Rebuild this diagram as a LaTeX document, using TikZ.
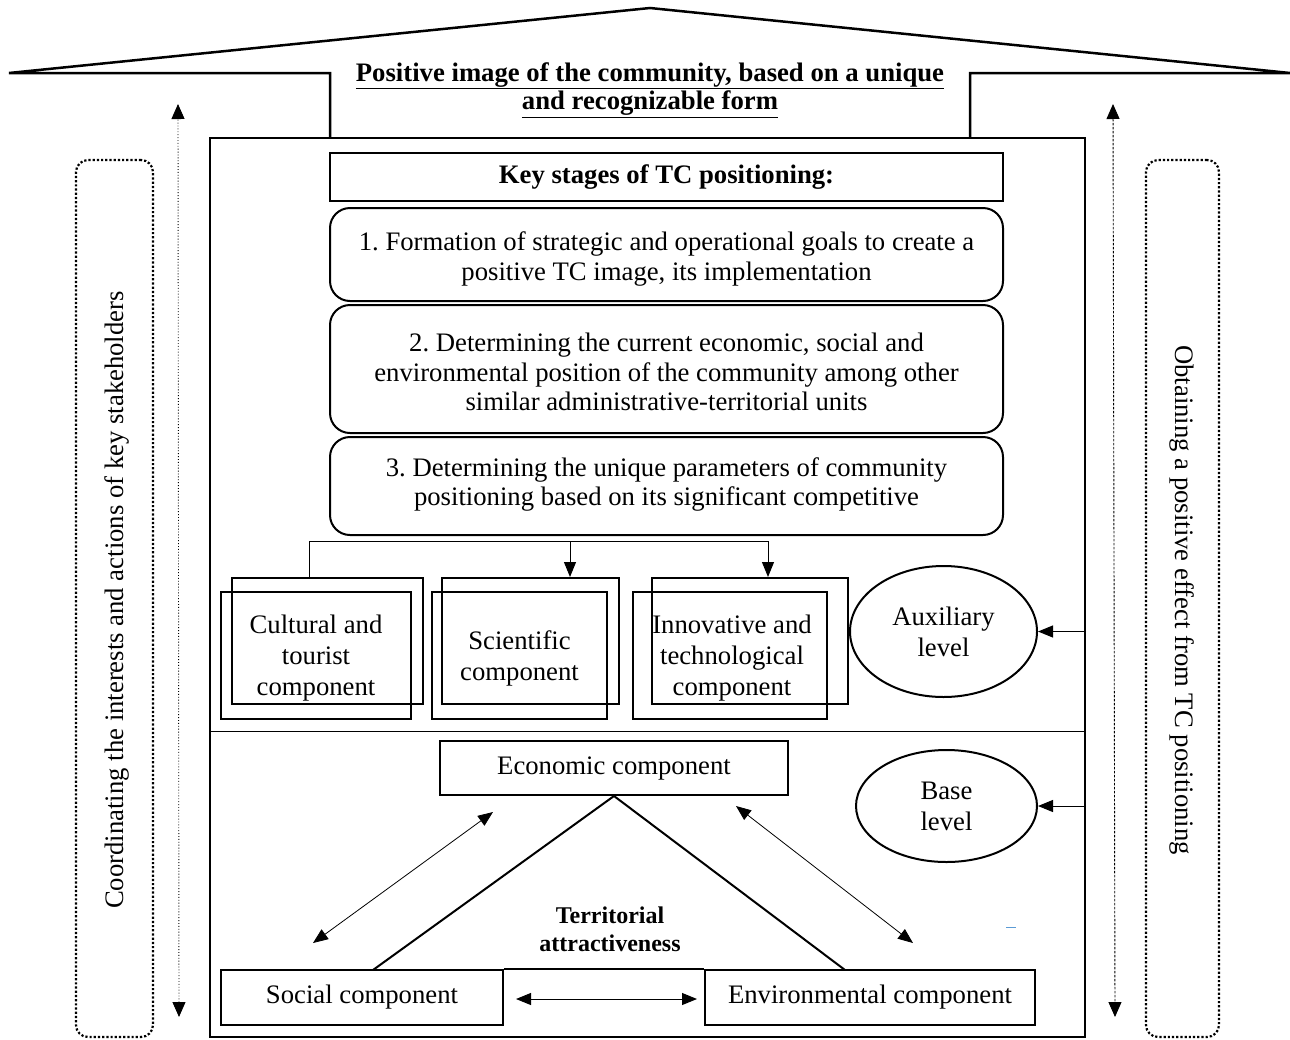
\documentclass[tikz,border=0pt]{standalone}
\usepackage{fontspec}
\setmainfont{Liberation Serif}
\usetikzlibrary{arrows.meta,shapes.geometric}
\frenchspacing
\begin{document}
\begin{tikzpicture}[x=1pt,y=-1pt,
  every node/.style={font=\fontsize{26.7}{31}\selectfont,inner sep=0pt,align=center},
  stagetext/.style={font=\fontsize{26.7}{29.5}\selectfont},
  box/.style={draw,line width=2pt},
  stagebox/.style={draw,line width=2pt,rounded corners=20pt},
  thinline/.style={line width=1pt},
  tipone/.style={-{Triangle[length=15pt,width=12pt]}},
  tiptwo/.style={{Triangle[length=15pt,width=12pt]}-{Triangle[length=15pt,width=12pt]}},
  sidebox/.style={draw,line width=2.2pt,dotted,rounded corners=12pt},
]
\useasboundingbox (0,0) rectangle (1290,1039);

% roof
\coordinate (rl) at (9,73);
\coordinate (ra) at (650,8);
\coordinate (rr) at (1290,73);
\draw[line width=2.5pt,line join=miter] (330,138) -- (330,73) -- (rl) -- (ra) -- (rr) -- (970,73) -- (970,138);
\node[font=\fontsize{26.7}{28.5}\selectfont\bfseries] (title) at (650,90) {\underline{Positive image of the community, based on a unique}\\ \underline{and recognizable form}};

% main box
\node[box,minimum width=875pt,minimum height=899pt] (main) at (647.5,587.5) {};
\coordinate (divl) at (210,731);
\coordinate (divr) at (1085,731);
\draw[line width=1pt] (divl) -- (divr);

% key stages
\node[box,minimum width=673pt,minimum height=48pt] (ks) at (666.5,177) {\bfseries Key stages of TC positioning:};
\node[stagebox,minimum width=673pt,minimum height=93pt] (s1) at (666.5,254.5) {};
\node[stagetext] (s1t) at (666.5,259) {1. Formation of strategic and operational goals to create a\\ positive TC image, its implementation};
\node[stagebox,minimum width=673pt,minimum height=128pt] (s2) at (666.5,369) {};
\node[stagetext] (s2t) at (666.5,372) {2. Determining the current economic, social and\\ environmental position of the community among other\\ similar administrative-territorial units};
\node[stagebox,minimum width=673pt,minimum height=98pt] (s3) at (666.5,486) {};
\node[stagetext] (s3t) at (666.5,484.5) {3. Determining the unique parameters of community\\ positioning based on its significant competitive};

% component boxes
\node[box,minimum width=191pt,minimum height=126pt] (cultB) at (327.5,641) {};
\node[box,minimum width=190pt,minimum height=127pt] (cultF) at (316,655.5) {};
\node (cultT) at (316,658) {Cultural and\\ tourist\\ component};
\node[box,minimum width=177pt,minimum height=126pt] (sciB) at (530.5,641) {};
\node[box,minimum width=175pt,minimum height=127pt] (sciF) at (519.5,655.5) {};
\node (sciT) at (519.5,658) {Scientific\\ component};
\node[box,minimum width=196pt,minimum height=126pt] (innB) at (750,641) {};
\node[box,minimum width=194pt,minimum height=127pt] (innF) at (730,655.5) {};
\node (innT) at (732,658) {Innovative and\\ technological\\ component};

% connector from stages
\coordinate (bl) at (309,541);
\coordinate (bm) at (570,541);
\coordinate (br) at (768,541);
\draw[thinline] (bl |- cultB.north) -- (bl) -- (br);
\draw[thinline,tipone] (bm) -- (bm |- sciB.north);
\draw[thinline,tipone] (br) -- (br |- innB.north);

% levels
\node[ellipse,draw,line width=2pt,minimum width=187pt,minimum height=131pt] (aux) at (943.5,631.5) {Auxiliary\\ level};
\node[ellipse,draw,line width=2pt,minimum width=181pt,minimum height=112pt] (base) at (946.5,806) {Base\\ level};
\draw[thinline,tipone] (main.east |- aux.east) -- (aux.east);
\draw[thinline,tipone] (main.east |- base.east) -- (base.east);

% base components
\node[box,minimum width=348pt,minimum height=54pt] (econ) at (614,768) {Economic component};
\node[box,minimum width=282pt,minimum height=55pt] (soc) at (362,997.5) {Social component};
\node[box,minimum width=330pt,minimum height=55pt] (env) at (870,997.5) {Environmental component};
\coordinate (tl) at (373,970);
\coordinate (trr) at (845,970);
\draw[line width=2pt,line join=miter] (tl) -- (econ.south) -- (trr);
\draw[line width=2pt] (soc.north east) -- (env.north west);
\node[font=\fontsize{24}{28}\selectfont\bfseries] (terr) at (610,929) {Territorial\\ attractiveness};

\coordinate (a1) at (493,812);
\coordinate (a2) at (313,943);
\coordinate (a3) at (736,806);
\coordinate (a4) at (913,943);
\draw[line width=0.8pt,tiptwo] (a2) -- (a1);
\draw[line width=0.8pt,tiptwo] (a3) -- (a4);
\coordinate (a5) at (516,999);
\coordinate (a6) at (697,999);
\draw[line width=1pt,tiptwo] (a5) -- (a6);

% tiny blue mark
\coordinate (bd1) at (1006,927);
\coordinate (bd2) at (1016,927);
\draw[line width=1pt,color={rgb,255:red,91;green,155;blue,213}] (bd1) -- (bd2);

% side arrows
\coordinate (lt) at (178,104);
\coordinate (lb) at (179,1017);
\coordinate (rt) at (1113,104);
\coordinate (rb) at (1115,1017);
\draw[line width=0.9pt,dotted,{Triangle[length=15pt,width=13pt]}-{Triangle[length=15pt,width=13pt]}] (lb) -- (lt);
\draw[line width=0.9pt,dash pattern=on 2.5pt off 1.5pt,{Triangle[length=15pt,width=13pt]}-{Triangle[length=15pt,width=13pt]}] (rt) -- (rb);

% side boxes
\node[sidebox,minimum width=77pt,minimum height=877pt] (lbox) at (114.5,598.5) {};
\node[rotate=90] (ltext) at (117,600) {Coordinating the interests and actions of key stakeholders};
\node[sidebox,minimum width=73pt,minimum height=877pt] (rbox) at (1182.5,598.5) {};
\node[rotate=-90] (rtext) at (1182,600) {Obtaining a positive effect from TC positioning};
\end{tikzpicture}
\end{document}
